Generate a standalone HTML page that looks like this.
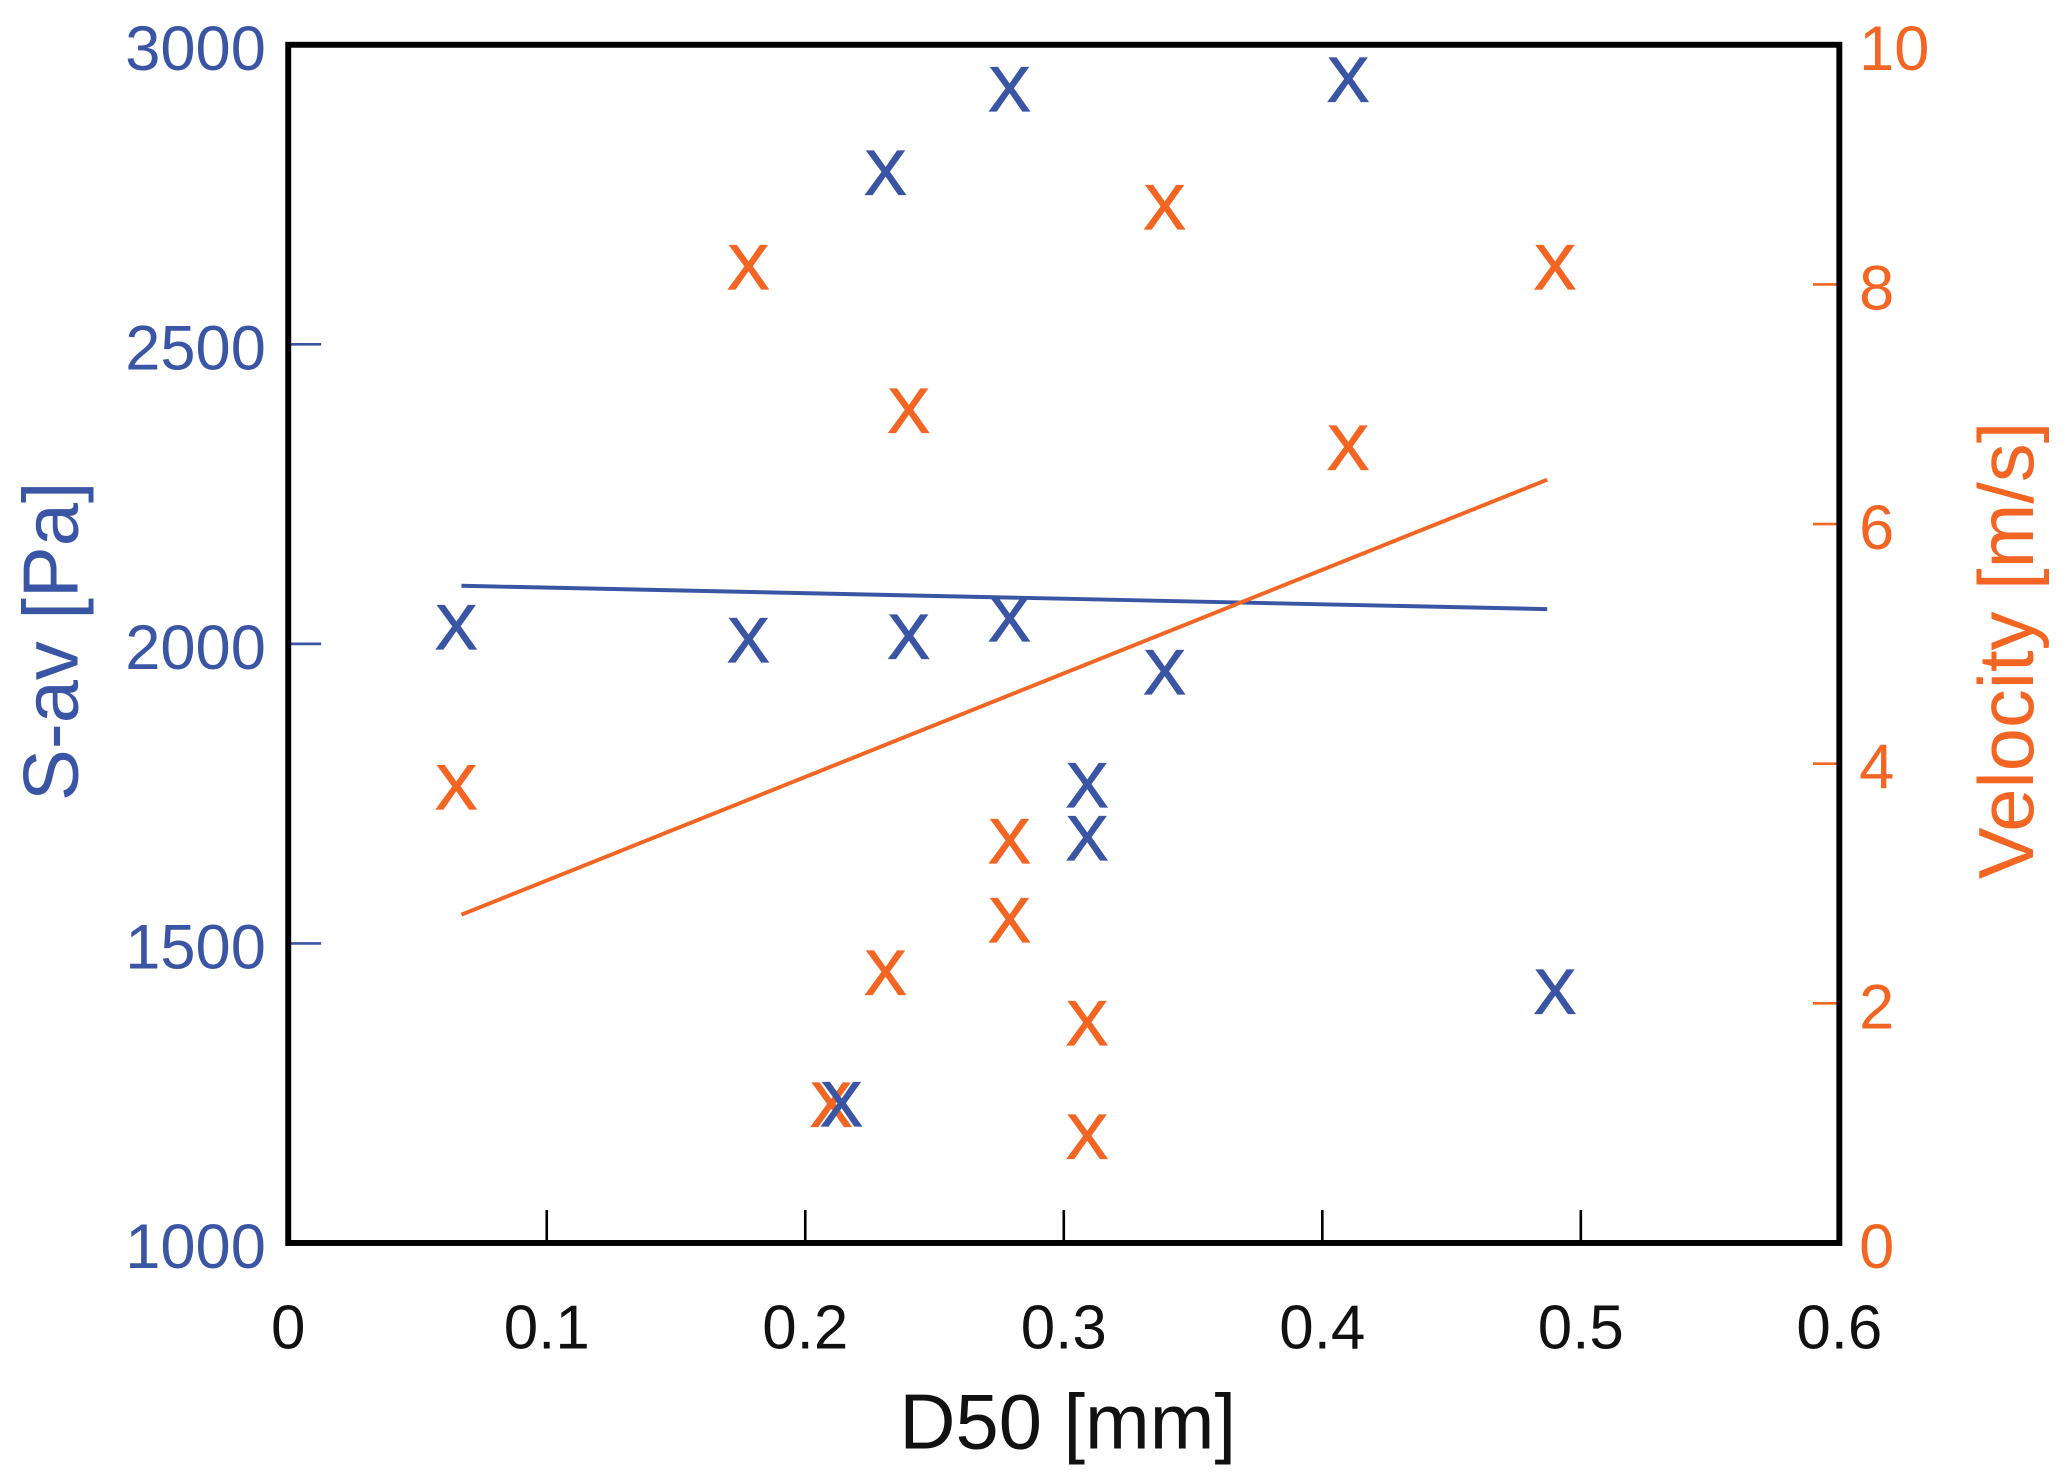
<!DOCTYPE html>
<html><head><meta charset="utf-8"><style>
html,body{margin:0;padding:0;background:#fff;}
svg{display:block;}
text{font-family:"Liberation Sans",Arial,sans-serif;}
</style></head><body>
<svg id="chart" width="2067" height="1480" viewBox="0 0 1568 1124" xmlns="http://www.w3.org/2000/svg">
<g id="axes"></g>
<g id="marks"></g>
<rect x="218" y="34" width="1178" height="910" fill="none" stroke="#000" stroke-width="4.5"/>
<text x="810" y="1100" font-size="59" text-anchor="middle" fill="#111">D50 [mm]</text>
<text transform="translate(58,487) rotate(-90)" font-size="59" text-anchor="middle" fill="#3a55a4">S-av [Pa]</text>
<text transform="translate(1543,494) rotate(-90)" font-size="59" text-anchor="middle" fill="#f26522">Velocity [m/s]</text>
</svg>
<script>
const xTicks=[0,0.1,0.2,0.3,0.4,0.5,0.6];
const xTickLabels=["0","0.1","0.2","0.3","0.4","0.5","0.6"];
const leftTicks=[1000,1500,2000,2500,3000];
const leftTickLabels=["1000","1500","2000","2500","3000"];
const rightTicks=[0,2,4,6,8,10];
const rightTickLabels=["0","2","4","6","8","10"];
const sx=[0.065,0.178,0.231,0.240,0.279,0.279,0.309,0.309,0.214,0.339,0.410,0.490];
const sy=[2029,2007,2787,2013,2927,2042,1765,1677,1233,1954,2943,1420];
const vx=[0.065,0.178,0.210,0.231,0.240,0.279,0.279,0.309,0.309,0.339,0.410,0.490];
const vy=[3.81,8.15,1.16,2.26,6.95,3.36,2.70,1.84,0.89,8.65,6.64,8.15];
const sFitX=[0.067,0.487];
const sFitY=[2097,2058];
const vFitX=[0.067,0.487];
const vFitY=[2.74,6.37];
const L=218,R=1396,T=34,B=944;
const X=v=>L+v/0.6*(R-L);
const YL=v=>B-(v-1000)/2000*(B-T);
const YR=v=>B-v/10*(B-T);
const NS="http://www.w3.org/2000/svg";
const axes=document.getElementById('axes'),marks=document.getElementById('marks');
function mk(tag,attrs,parent,txt){const e=document.createElementNS(NS,tag);for(const k in attrs)e.setAttribute(k,attrs[k]);if(txt!==undefined)e.textContent=txt;parent.appendChild(e);return e;}
xTicks.forEach((t,i)=>{
  if(t>0&&t<0.6){const l=mk('line',{x1:X(t),x2:X(t),y1:B,y2:B-25,stroke:'#000','stroke-width':2},axes);
  
  }
  const tx=mk('text',{x:X(t),y:1024,'font-size':47,'text-anchor':'middle',fill:'#111'},axes,xTickLabels[i]);
  
  
});
leftTicks.forEach((t,i)=>{
  if(t>1000&&t<3000){const l=mk('line',{x1:L,x2:L+25,y1:YL(t),y2:YL(t),stroke:'#3a55a4','stroke-width':2},axes);
  
  }
  const tx=mk('text',{x:201,y:YL(t)+19,'font-size':48,'text-anchor':'end',fill:'#3a55a4'},axes,leftTickLabels[i]);
  
  
});
rightTicks.forEach((t,i)=>{
  if(t>0&&t<10){const l=mk('line',{x1:R-20,x2:R,y1:YR(t),y2:YR(t),stroke:'#f26522','stroke-width':2},axes);
  
  }
  const tx=mk('text',{x:1411,y:YR(t)+19,'font-size':48,'text-anchor':'start',fill:'#f26522'},axes,rightTickLabels[i]);
  
  
});
const fs=mk('line',{x1:X(sFitX[0]),x2:X(sFitX[1]),y1:YL(sFitY[0]),y2:YL(sFitY[1]),stroke:'#3a55a4','stroke-width':3},marks);


const fv=mk('line',{x1:X(vFitX[0]),x2:X(vFitX[1]),y1:YR(vFitY[0]),y2:YR(vFitY[1]),stroke:'#f26522','stroke-width':3},marks);


vx.forEach((x,i)=>{
  const t=mk('text',{x:X(x),y:YR(vy[i])+17,'font-size':48,'text-anchor':'middle',fill:'#f26522',stroke:'#f26522','stroke-width':1},marks,'X');
  
  
});
sx.forEach((x,i)=>{
  const t=mk('text',{x:X(x),y:YL(sy[i])+17,'font-size':48,'text-anchor':'middle',fill:'#3a55a4',stroke:'#3a55a4','stroke-width':1},marks,'X');
  
  
});
</script>
</body></html>
